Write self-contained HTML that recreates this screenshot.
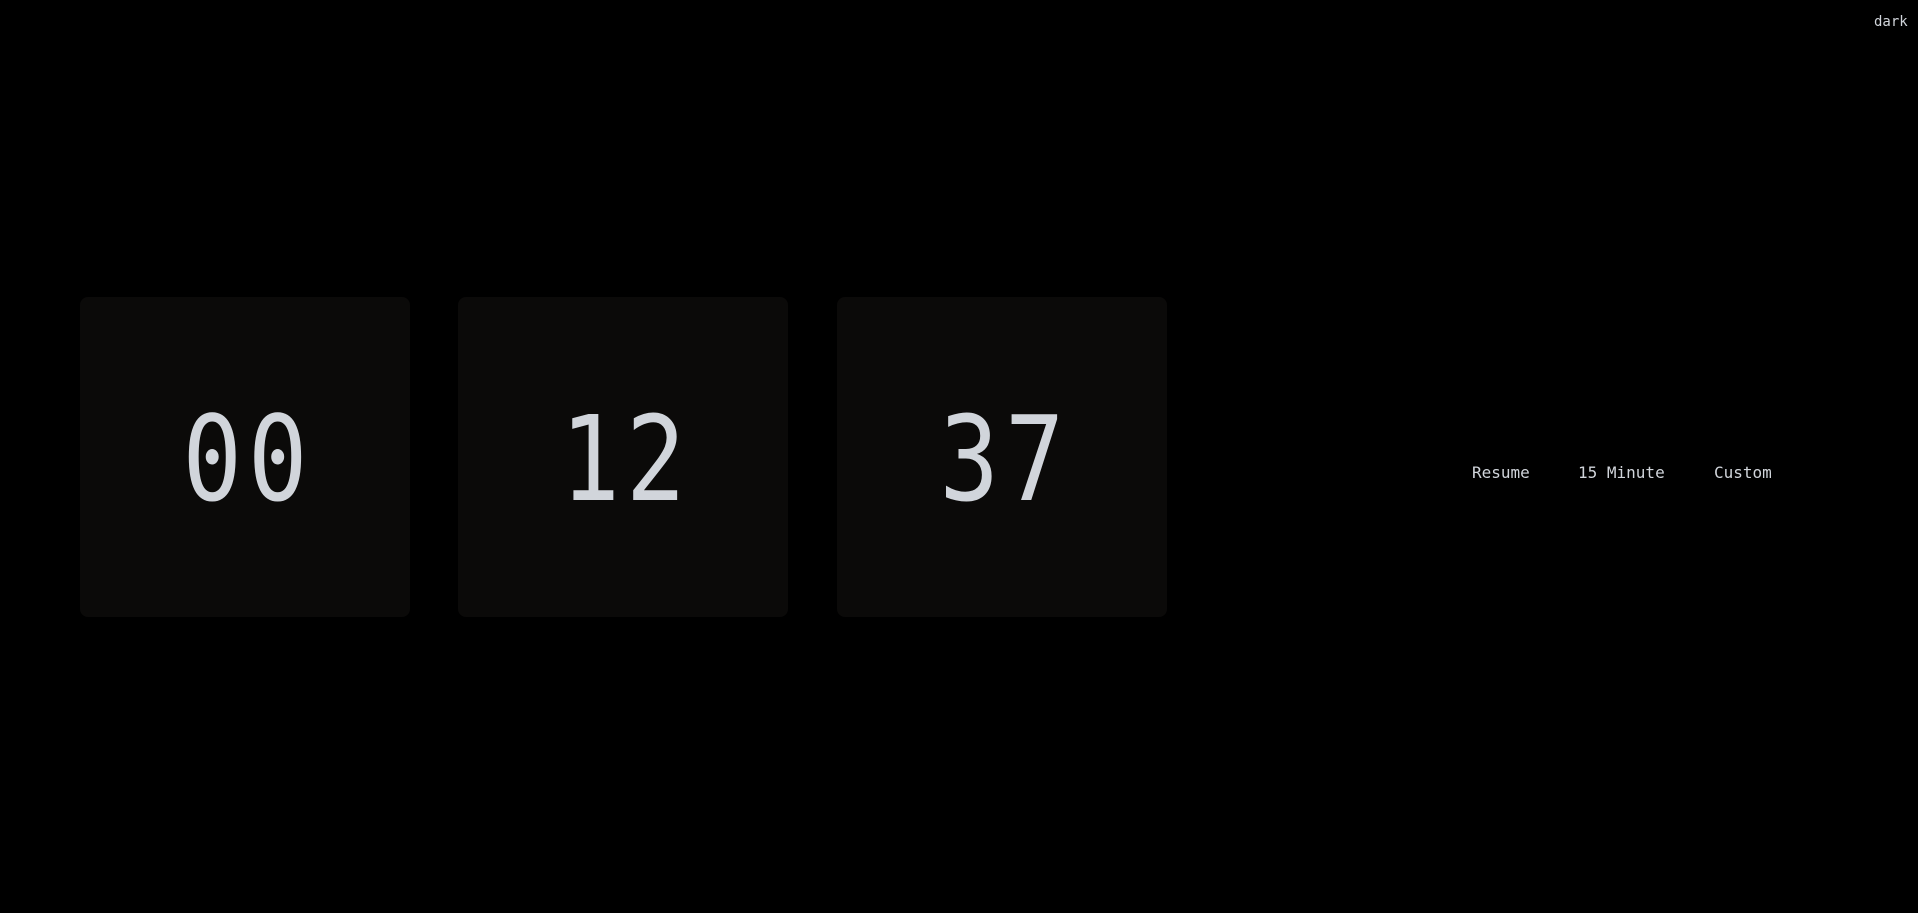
<!DOCTYPE html>
<html><head><meta charset="utf-8"><style>
html,body{margin:0;padding:0;background:#000;width:1918px;height:913px;overflow:hidden;font-family:"DejaVu Sans Mono","Liberation Mono",monospace;color:#d1d5db}
.card{position:absolute;top:297px;width:330px;height:320px;background:#0b0a09;border-radius:8px}
.digits{position:absolute;left:0;right:0;top:0;bottom:0;display:flex;align-items:center;justify-content:center;font-size:118px;letter-spacing:7px;text-indent:7px;line-height:1;padding-top:3px;box-sizing:border-box;transform:scaleX(0.84)}
.btn{position:absolute;top:462px;font-size:16px;line-height:22px;cursor:pointer}
</style></head><body>
<div style="position:absolute;left:1874px;top:12px;font-size:14px;line-height:20px;cursor:pointer">dark</div>
<div class="card" style="left:80px"><div class="digits">00</div></div>
<div class="card" style="left:458px"><div class="digits">12</div></div>
<div class="card" style="left:837px"><div class="digits">37</div></div>
<div class="btn" style="left:1472px">Resume</div>
<div class="btn" style="left:1578px">15 Minute</div>
<div class="btn" style="left:1714px">Custom</div>
</body></html>
